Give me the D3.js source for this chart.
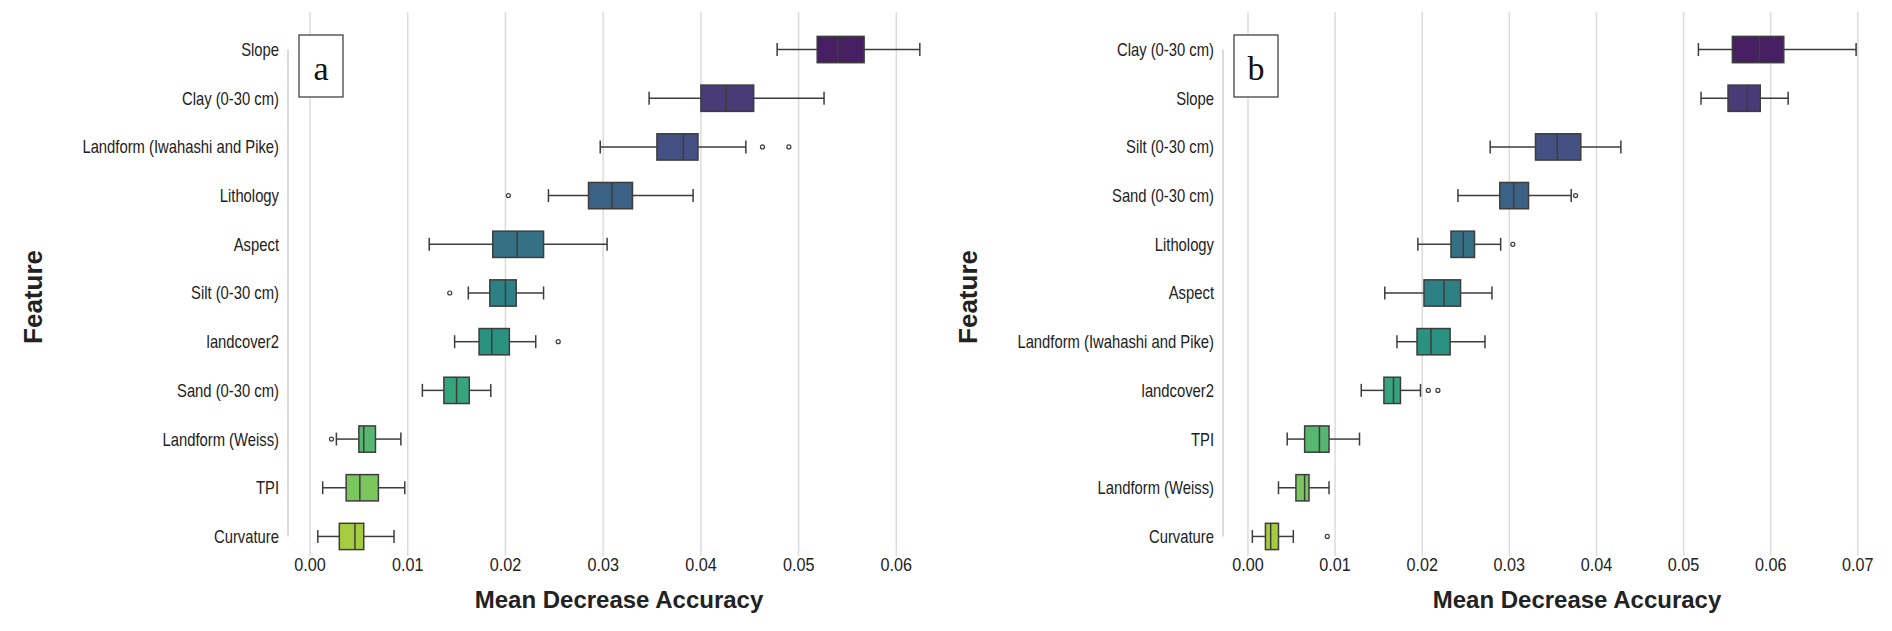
<!DOCTYPE html>
<html>
<head>
<meta charset="utf-8">
<script src="https://cdn.jsdelivr.net/npm/d3@7"></script>
<style>
  body { margin: 0; background: #fff; }
  text { font-family: "Liberation Sans", Arial, sans-serif; }
</style>
</head>
<body>
<svg id="chart" width="1892" height="631"></svg>
<script>
// Panel a: features in plotted order, stats [whiskerLo, q1, median, q3, whiskerHi]
var featuresA = ["Slope","Clay (0-30 cm)","Landform (Iwahashi and Pike)","Lithology","Aspect","Silt (0-30 cm)","landcover2","Sand (0-30 cm)","Landform (Weiss)","TPI","Curvature"];
var statsA = [
  [0.0478,0.0519,0.0540,0.0567,0.0624],
  [0.0347,0.0400,0.0426,0.0454,0.0526],
  [0.0297,0.0355,0.0382,0.0397,0.0446],
  [0.0244,0.0285,0.0309,0.0330,0.0392],
  [0.0122,0.0187,0.0212,0.0239,0.0304],
  [0.0162,0.0184,0.0200,0.0211,0.0239],
  [0.0148,0.0173,0.0186,0.0204,0.0231],
  [0.0115,0.0137,0.0150,0.0163,0.0185],
  [0.0027,0.0050,0.0055,0.0067,0.0093],
  [0.0013,0.0037,0.0051,0.0070,0.0097],
  [0.0008,0.0030,0.0046,0.0055,0.0086]
];
var outliersA = [[],[],[0.0463,0.0490],[0.0203],[],[0.0143],[0.0254],[],[0.0022],[],[]];
var ticksA = [0,0.01,0.02,0.03,0.04,0.05,0.06];

// Panel b
var featuresB = ["Clay (0-30 cm)","Slope","Silt (0-30 cm)","Sand (0-30 cm)","Lithology","Aspect","Landform (Iwahashi and Pike)","landcover2","TPI","Landform (Weiss)","Curvature"];
var statsB = [
  [0.0517,0.0556,0.0587,0.0615,0.0698],
  [0.0520,0.0551,0.0573,0.0588,0.0620],
  [0.0278,0.0330,0.0355,0.0382,0.0428],
  [0.0241,0.0289,0.0305,0.0322,0.0371],
  [0.0195,0.0233,0.0247,0.0260,0.0290],
  [0.0157,0.0202,0.0225,0.0244,0.0280],
  [0.0171,0.0194,0.0210,0.0232,0.0272],
  [0.0130,0.0156,0.0167,0.0175,0.0198],
  [0.0045,0.0065,0.0082,0.0093,0.0128],
  [0.0035,0.0055,0.0065,0.0070,0.0093],
  [0.0005,0.0020,0.0026,0.0035,0.0052]
];
var outliersB = [[],[],[],[0.0376],[0.0304],[],[],[0.0207,0.0218],[],[],[0.0091]];
var ticksB = [0,0.01,0.02,0.03,0.04,0.05,0.06,0.07];

var svg = d3.select("#chart");

function panel(opts) {
  var g = svg.append("g");
  var x = d3.scaleLinear().domain(opts.domain).range(opts.xr);
  var y = d3.scaleBand().domain(opts.features).range([14, 572]).padding(0.46);
  var vir = d3.scaleSequential(d3.interpolateViridis).domain([-0.8, opts.features.length + 0.5]);
  var color = function (i) { var c = d3.hsl(vir(i)); c.s *= 0.82; return c.formatHex(); };

  // gridlines
  g.selectAll(".grid").data(opts.ticks).join("line")
    .attr("x1", d => x(d)).attr("x2", d => x(d))
    .attr("y1", 12).attr("y2", 556)
    .attr("stroke", "#dcdcdc").attr("stroke-width", 1.5);

  // trimmed left spine
  g.append("line")
    .attr("x1", opts.xr[0]).attr("x2", opts.xr[0])
    .attr("y1", y(opts.features[0]) + y.bandwidth() / 2)
    .attr("y2", y(opts.features[opts.features.length - 1]) + y.bandwidth() / 2)
    .attr("stroke", "#cfcfcf").attr("stroke-width", 1.5);

  // tick labels
  g.selectAll(".tl").data(opts.ticks).join("text")
    .attr("transform", d => "translate(" + x(d) + ",571) scale(0.9,1)")
    .attr("text-anchor", "middle").attr("font-size", 18).attr("fill", "#222")
    .text(d3.format(".2f"));

  // category labels
  g.selectAll(".cl").data(opts.features).join("text")
    .attr("transform", d => "translate(" + (opts.xr[0] - 9) + "," + (y(d) + y.bandwidth() / 2) + ") scale(0.8,1)")
    .attr("dy", "0.35em").attr("text-anchor", "end")
    .attr("font-size", 18.5).attr("fill", "#222")
    .text(d => d);

  var rows = g.selectAll(".row").data(opts.features).join("g")
    .attr("transform", d => "translate(0," + y(d) + ")");
  var h = y.bandwidth(), mid = h / 2;

  rows.append("line")
    .attr("x1", (d, i) => x(opts.stats[i][0])).attr("x2", (d, i) => x(opts.stats[i][1]))
    .attr("y1", mid).attr("y2", mid).attr("stroke", "#3d3d3d").attr("stroke-width", 1.5);
  rows.append("line")
    .attr("x1", (d, i) => x(opts.stats[i][3])).attr("x2", (d, i) => x(opts.stats[i][4]))
    .attr("y1", mid).attr("y2", mid).attr("stroke", "#3d3d3d").attr("stroke-width", 1.5);
  [0, 4].forEach(function (k) {
    rows.append("line")
      .attr("x1", (d, i) => x(opts.stats[i][k])).attr("x2", (d, i) => x(opts.stats[i][k]))
      .attr("y1", mid - 6.5).attr("y2", mid + 6.5).attr("stroke", "#3d3d3d").attr("stroke-width", 1.5);
  });
  rows.append("rect")
    .attr("x", (d, i) => x(opts.stats[i][1]))
    .attr("width", (d, i) => x(opts.stats[i][3]) - x(opts.stats[i][1]))
    .attr("y", 0).attr("height", h)
    .attr("fill", (d, i) => color(i)).attr("stroke", "#3d3d3d").attr("stroke-width", 1.5);
  rows.append("line")
    .attr("x1", (d, i) => x(opts.stats[i][2])).attr("x2", (d, i) => x(opts.stats[i][2]))
    .attr("y1", 0).attr("y2", h).attr("stroke", "#3d3d3d").attr("stroke-width", 1.5);
  rows.each(function (d, i) {
    d3.select(this).selectAll("circle").data(opts.outliers[i]).join("circle")
      .attr("cx", v => x(v)).attr("cy", mid).attr("r", 2)
      .attr("fill", "none").attr("stroke", "#3d3d3d").attr("stroke-width", 1.2);
  });

  // axis titles
  g.append("text").attr("x", opts.titleX).attr("y", 608)
    .attr("text-anchor", "middle").attr("font-size", 24).attr("font-weight", "bold")
    .attr("fill", "#222").text("Mean Decrease Accuracy");
  g.append("text")
    .attr("transform", "translate(" + opts.featX + ",297) rotate(-90)")
    .attr("text-anchor", "middle").attr("font-size", 26).attr("font-weight", "bold")
    .attr("fill", "#222").text("Feature");

  // panel letter
  g.append("rect").attr("x", opts.letterX).attr("y", 35).attr("width", 44).attr("height", 62)
    .attr("fill", "#fff").attr("stroke", "#333").attr("stroke-width", 1.2);
  g.append("text").attr("x", opts.letterX + 22).attr("y", 80)
    .attr("text-anchor", "middle").attr("font-size", 34)
    .style("font-family", "'Liberation Serif', 'DejaVu Serif', serif")
    .attr("fill", "#111").text(opts.letter);
}

panel({features: featuresA, stats: statsA, outliers: outliersA, ticks: ticksA,
  domain: [-0.00225, 0.066], xr: [288, 955], titleX: 619, featX: 42, letterX: 299, letter: "a"});
panel({features: featuresB, stats: statsB, outliers: outliersB, ticks: ticksB,
  domain: [-0.00287, 0.0722], xr: [1223, 1877], titleX: 1577, featX: 977, letterX: 1234, letter: "b"});
</script>
</body>
</html>
